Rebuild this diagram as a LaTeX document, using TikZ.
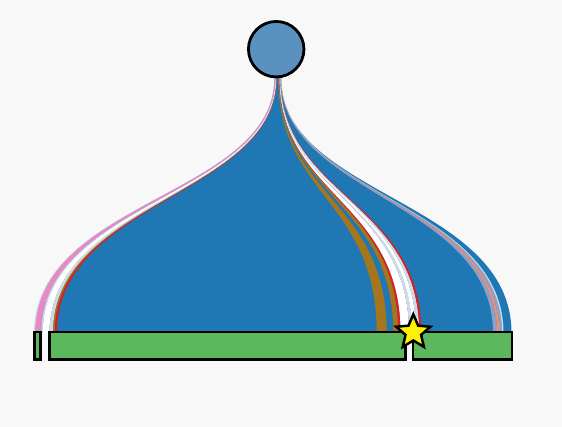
\documentclass[tikz,border=0pt]{standalone}
\usetikzlibrary{shapes.geometric}
\definecolor{bgc}{HTML}{F8F8F8}
\definecolor{flowblue}{HTML}{1F77B4}
\definecolor{rootblue}{HTML}{5B91BF}
\definecolor{boxgreen}{HTML}{5CB85C}
\definecolor{fpink}{HTML}{E78AC3}
\definecolor{fbrown}{HTML}{A6761D}
\definecolor{fred}{HTML}{E31A1C}
\definecolor{flav}{HTML}{8DA0CB}
\definecolor{fsalmon}{HTML}{FC8D62}
\definecolor{fsteel}{HTML}{CFDAE5}
\newcommand{\topx}[1]{274.5+6.5*(#1-34.5)/477}
% band with explicit top positions: colour, bottom left, bottom right, top left, top right
\newcommand{\flowbandt}[5]{%
  \fill[#1] (#4,78) .. controls (#4,196) and (#2,200) .. (#2,333)
    -- (#3,333) .. controls (#3,200) and (#5,196) .. (#5,78) -- cycle;}
\newcommand{\flowband}[3]{\flowbandt{#1}{#2}{#3}{{\topx{#2}}}{{\topx{#3}}}}
\tikzset{
  rootnode/.style={circle, draw=black, line width=2.8pt, fill=rootblue, minimum size=55.5pt, inner sep=0pt},
  boxnode/.style={rectangle, draw=black, line width=2.5pt, fill=boxgreen, minimum height=27.5pt, inner sep=0pt},
  marknode/.style={star, star points=5, star point ratio=2.2, draw=black, fill=yellow, line width=2.5pt, minimum size=36pt, inner sep=0pt}
}
\begin{document}
\begin{tikzpicture}[x=1pt,y=-1pt]
\useasboundingbox (0,0) rectangle (562,427);
\fill[bgc] (0,0) rectangle (562,427);
% base flow
\flowband{flowblue}{35}{511.5}
% left group
\flowbandt{fsteel}{34}{35.5}{274.2}{274.5}
\flowbandt{fpink}{35.3}{41.3}{274.5}{275.6}
\flowbandt{fsteel}{41.3}{42.8}{275.6}{275.8}
\flowbandt{white}{42.8}{49.5}{275.8}{276.3}
\flowbandt{fsteel}{49.5}{53}{276.3}{276.5}
\flowbandt{fbrown}{53}{54.7}{276.5}{276.6}
\flowbandt{fred}{54.7}{56.8}{276.6}{276.75}
% middle group
\flowbandt{fbrown}{376.7}{386.7}{278.3}{279.0}
\flowbandt{fbrown}{393.3}{398.3}{279.15}{279.45}
\flowbandt{fred}{398.3}{400.6}{279.45}{279.6}
\flowbandt{white}{400.6}{409}{279.6}{280.0}
\flowbandt{fsteel}{409}{412}{280.0}{280.15}
\flowbandt{white}{412}{416}{280.15}{280.35}
\flowbandt{fsteel}{416}{419.3}{280.35}{280.5}
\flowbandt{fred}{419.3}{421.3}{280.5}{280.6}
% right group
\flowbandt{flav}{493}{497}{280.65}{280.95}
\flowbandt{fsalmon}{497}{499.3}{280.95}{281.1}
\flowbandt{flav}{499.3}{502}{281.1}{281.25}
\flowbandt{fsteel}{502}{503.5}{281.25}{281.35}
% nodes
\node[rootnode] (root) at (276.2,49.2) {};
\node[boxnode, minimum width=6.2pt] (boxa) at (37.6,346) {};
\node[boxnode, minimum width=356.2pt] (boxb) at (227.4,346) {};
\node[boxnode, minimum width=99.4pt] (boxc) at (462.5,346) {};
\node[marknode] (mark) at (413.3,332.3) {};
\end{tikzpicture}
\end{document}
